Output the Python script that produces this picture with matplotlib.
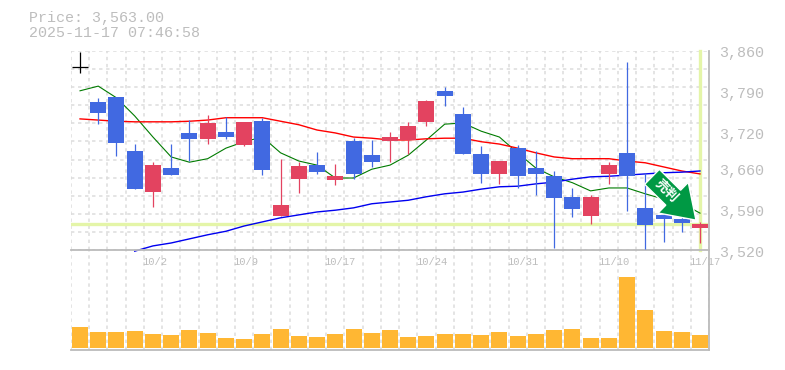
import matplotlib
matplotlib.use('Agg')
import matplotlib.pyplot as plt
from matplotlib.patches import FancyArrow
from matplotlib.transforms import IdentityTransform
import numpy as np

# candles, in yen
opens = [3833, 3773, 3781, 3689, 3619, 3660, 3720, 3710, 3722, 3699, 3740, 3578, 3641, 3665, 3640, 3706, 3682, 3706,
         3708, 3739, 3792, 3752, 3684, 3650, 3694, 3660, 3646, 3611, 3578, 3650, 3686, 3592, 3580, 3573, 3558]
closes = [3833, 3754, 3703, 3624, 3665, 3648, 3710, 3737, 3713, 3739, 3657, 3597, 3664, 3653, 3646, 3650, 3670, 3713,
          3732, 3775, 3783, 3684, 3650, 3672, 3646, 3650, 3609, 3590, 3611, 3665, 3646, 3563, 3573, 3566, 3564]
highs = [3858, 3780, 3781, 3701, 3670, 3701, 3742, 3751, 3747, 3739, 3746, 3676, 3670, 3687, 3667, 3711, 3708, 3722,
         3739, 3776, 3799, 3764, 3698, 3672, 3699, 3689, 3655, 3626, 3614, 3670, 3841, 3652, 3586, 3578, 3568]
lows = [3822, 3735, 3681, 3624, 3593, 3648, 3672, 3701, 3710, 3698, 3648, 3578, 3617, 3650, 3631, 3641, 3662, 3670,
        3684, 3732, 3766, 3684, 3635, 3633, 3626, 3614, 3523, 3576, 3564, 3633, 3587, 3522, 3534, 3551, 3532]

ma_short = [3792, 3800, 3780, 3749, 3713, 3679, 3670, 3676, 3694, 3705, 3713, 3686, 3672, 3665, 3643, 3643, 3658, 3665,
            3682, 3708, 3735, 3737, 3723, 3713, 3686, 3660, 3645, 3635, 3621, 3626, 3626, 3616, 3607, 3600, 3583]
ma_mid = [3744, 3742, 3740, 3739, 3739, 3739, 3740, 3742, 3746, 3746, 3746, 3740, 3734, 3725, 3720, 3713, 3711, 3708,
          3708, 3710, 3711, 3711, 3705, 3701, 3694, 3686, 3679, 3676, 3676, 3676, 3672, 3669, 3662, 3655, 3650]
# long average only starts at the fourth session
ma_long = [3518, 3527, 3532, 3539, 3546, 3552, 3561, 3568, 3575, 3580, 3585, 3588, 3592, 3599, 3602, 3605, 3611, 3616,
           3619, 3624, 3628, 3629, 3633, 3636, 3641, 3645, 3646, 3648, 3650, 3652, 3653, 3655]

volumes = [210, 160, 160, 170, 140, 130, 180, 150, 100, 90, 140, 190, 120, 110, 140, 190, 150, 180,
           110, 120, 140, 140, 130, 160, 120, 140, 180, 190, 100, 100, 710, 380, 170, 160, 130]

date_positions = [4, 9, 14, 19, 24, 29, 34]
date_labels = ['10/2', '10/9', '10/17', '10/24', '10/31', '11/10', '11/17']
price_ticks = [3860, 3790, 3720, 3660, 3590, 3520]
price_labels = ['3,860', '3,790', '3,720', '3,660', '3,590', '3,520']

last_price = 3563
last_session = len(closes) - 1

RED = '#E34360'
BLUE = '#4169E1'
GRID = '#DCDCDC'
FRAME = '#BBBBBB'
TEXT = '#BDBDBD'
HILITE = '#E4F5A8'
ORANGE = '#FFB733'
MONO = 'Liberation Mono'
W, H = 785, 370

fig = plt.figure(figsize=(W / 100, H / 100), dpi=100)
ax = fig.add_axes([70.9 / W, 1 - 250 / H, 638.2 / W, 199 / H])
vol = fig.add_axes([70.9 / W, 1 - 349.5 / H, 638.2 / W, 99.5 / H])
ax.set_zorder(2)
ax.patch.set_alpha(0)

x = np.arange(len(closes))
bar_w = 16 / 18.235

for a in (ax, vol):
    a.set_xlim(-0.5, 34.5)
    a.set_xticks(np.arange(-0.5, 35))
    a.grid(True, axis='x', color=GRID, lw=1.1, linestyle=(0, (2.2, 2.4)), zorder=0)
    a.set_axisbelow(True)
    for s in a.spines.values():
        s.set_visible(False)
    a.tick_params(length=0, labelleft=False, labelbottom=False)

ax.set_ylim(3520, 3860)
ax.set_yticks(np.linspace(3520, 3860, 12))
ax.grid(True, axis='y', color=GRID, lw=1.1, linestyle=(0, (2.2, 2.4)), zorder=0)

# current price / current session marker
ax.axhline(last_price + 1, xmax=0.995, color=HILITE, lw=2.4, zorder=1)
ax.axvline(last_session, color=HILITE, lw=2.4, zorder=1, clip_on=False)

ax.plot(x, ma_short, color='#007B00', lw=0.8, zorder=2)
ax.plot(x, ma_mid, color='#FF0000', lw=1.0, zorder=2)
ax.plot(x[3:], ma_long, color='#0000F0', lw=1.0, zorder=2, clip_on=False)

for i in x:
    if closes[i] == opens[i]:
        c = 'black'
    elif closes[i] > opens[i]:
        c = RED
    else:
        c = BLUE
    ax.vlines(i, lows[i], highs[i], color=c, lw=0.9, zorder=3, clip_on=False)
    if c == 'black':
        ax.hlines(closes[i], i - bar_w / 2, i + bar_w / 2, color=c, lw=0.9, zorder=3)
    else:
        ax.bar(i, abs(closes[i] - opens[i]), bottom=min(opens[i], closes[i]), width=bar_w, color=c, zorder=3, antialiased=False)

# signal arrow, placed from its tail and tip on the price scale
tail = ax.transData.transform((31.37, 3645))
tip = ax.transData.transform((33.78, 3571))
fig.add_artist(FancyArrow(tail[0], tail[1], tip[0] - tail[0], tip[1] - tail[1], width=21, head_width=43, head_length=32,
                          length_includes_head=True, fc='#009944', ec='white', lw=1.0,
                          transform=IdentityTransform(), zorder=5))
fig.text(0.8495, 1 - 191 / H, '売判', family=['Noto Sans CJK JP', 'DejaVu Sans'], fontsize=9.5, fontweight='bold', color='white',
         rotation=-45, rotation_mode='anchor', ha='center', va='center', zorder=6)

vol.set_ylim(0, 995)
vol.bar(x, volumes, width=bar_w, color=ORANGE, zorder=2, bottom=15, antialiased=False)

# frame lines, the left side has only the dashed grid
for a in (ax, vol):
    for side in ('right', 'bottom'):
        a.spines[side].set_visible(True)
        a.spines[side].set_color(FRAME)
        a.spines[side].set_linewidth(1.3)

for v, lab in zip(price_ticks, price_labels):
    ax.annotate(lab, xy=(1, v), xycoords=('axes fraction', 'data'), xytext=(10, -2.5), textcoords='offset pixels',
                color=TEXT, family=MONO, fontsize=10.8, va='center', ha='left', annotation_clip=False)

for p, lab in zip(date_positions, date_labels):
    ax.annotate(lab, xy=(p - 0.5, 0), xycoords=('data', 'axes fraction'), xytext=(-1.5, -12), textcoords='offset pixels',
                color=TEXT, family=MONO, fontsize=7.6, va='center', ha='left', annotation_clip=False)

fig.text(29 / W, 1 - 18 / H, 'Price: 3,563.00', color=TEXT, family=MONO, fontsize=10.8, va='center', ha='left')
fig.text(29 / W, 1 - 33 / H, '2025-11-17 07:46:58', color=TEXT, family=MONO, fontsize=10.8, va='center', ha='left')

fig.savefig('out.png', dpi=100)
